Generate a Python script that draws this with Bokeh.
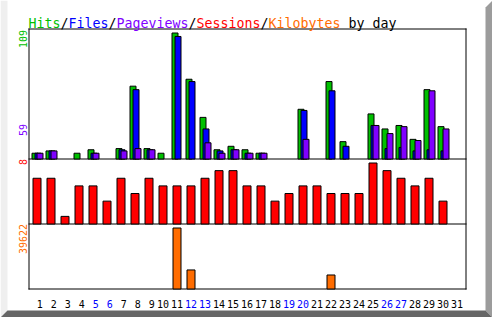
import math
from bokeh.plotting import figure
from bokeh.models import Range1d, ColumnDataSource, CDSView, BooleanFilter
from bokeh.transform import dodge
from bokeh.core.properties import value
from bokeh.embed import file_html
from bokeh.resources import INLINE

# ---------------- data ----------------
days = list(range(1, 32))
day_labels = [str(d) for d in days]
weekend_days = [5, 6, 12, 13, 19, 20, 26, 27]
hits = [5, 7, 0, 5, 8, 0, 9, 63, 9, 5, 109, 69, 36, 8, 11, 8, 5, 0, 0, 43, 0, 67, 15, 0, 39, 26, 29, 17, 60, 28, 0]
files = [5, 7, 0, 0, 5, 0, 8, 60, 8, 0, 106, 67, 26, 7, 8, 5, 5, 0, 0, 42, 0, 59, 11, 0, 29, 9, 10, 7, 8, 7, 0]
pageviews = [5, 7, 0, 0, 5, 0, 7, 9, 8, 0, 0, 0, 14, 5, 8, 5, 5, 0, 0, 17, 0, 0, 0, 0, 29, 22, 28, 16, 59, 26, 0]
sessions = [6, 6, 1, 5, 5, 3, 6, 4, 6, 5, 5, 5, 6, 7, 7, 5, 5, 3, 4, 5, 5, 4, 4, 4, 8, 7, 6, 5, 6, 3, 0]
kilobytes = [0, 0, 0, 0, 0, 0, 0, 0, 0, 0, 39622, 12380, 0, 0, 0, 0, 0, 0, 0, 0, 0, 9100, 0, 0, 0, 0, 0, 0, 0, 0, 0]

title_parts = ["Hits", "/", "Files", "/", "Pageviews", "/", "Sessions", "/", "Kilobytes", " by day"]

# ---------------- style ----------------
GREEN = "#00C000"
BLUE = "#0000FF"
PURPLE = "#8000FF"
RED = "#FF0000"
ORANGE = "#FF6C00"
title_colors = [GREEN, "black", BLUE, "black", PURPLE, "black", RED, "black", ORANGE, "black"]
MONO = "DejaVu Sans Mono"

W, H = 492, 317
SLOT = 14.0            # px per day
X0 = 34.5              # px centre of day-1 hits bar
BASE_HITS, BASE_SESS, BASE_KB = 158.5, 223.5, 288.5
kh = 126.0 / max(hits)
ks = 61.0 / max(sessions)
kk = 61.0 / max(kilobytes)

p = figure(width=W, height=H, output_backend="svg", toolbar_location=None,
           x_range=Range1d(1 - X0 / SLOT, 1 + (W - X0) / SLOT),
           y_range=Range1d(H, 0),
           x_axis_location=None, y_axis_location=None, min_border=0,
           outline_line_color=None, background_fill_color="white",
           border_fill_color="white")
p.grid.visible = False
p.extra_x_ranges = {"px": Range1d(0, W)}
p.extra_y_ranges = {
    "hits": Range1d(-(H - BASE_HITS) / kh, BASE_HITS / kh),
    "sess": Range1d(-(H - BASE_SESS) / ks, BASE_SESS / ks),
    "kb": Range1d(-(H - BASE_KB) / kk, BASE_KB / kk),
}

# bevelled border
p.patch([0, 7, 7, 0], [0, 0, 310, 317], x_range_name="px", fill_color="#EFEFEF", line_color=None)
p.patch([485, 492, 492, 485], [7, 0, 317, 310], x_range_name="px", fill_color="#9C9C9C", line_color=None)
p.patch([0, 7, 485, 492], [317, 310, 310, 317], x_range_name="px", fill_color="#666666", line_color=None)

# frame
p.segment(x0=[28.5, 465.5, 28, 28, 28, 28], y0=[28, 28, 28.5, 158.5, 223.5, 288.5],
          x1=[28.5, 465.5, 466, 466, 466, 466], y1=[289, 289, 28.5, 158.5, 223.5, 288.5],
          x_range_name="px", line_color="black", line_width=1)

src = ColumnDataSource(dict(day=days, hits=hits, files=files, pageviews=pageviews,
                            sessions=sessions, kilobytes=kilobytes))


def nonzero(col):
    return CDSView(filter=BooleanFilter([v > 0 for v in col]))


p.vbar(x="day", width=6 / SLOT, top="hits", bottom=0, source=src, view=nonzero(hits),
       y_range_name="hits", fill_color=GREEN, line_color="black", line_width=1)
p.vbar(x=dodge("day", 3 / SLOT, range=p.x_range), width=6 / SLOT, top="files", bottom=0, source=src,
       view=nonzero(files), y_range_name="hits", fill_color=BLUE, line_color="black", line_width=1)
p.vbar(x=dodge("day", 5 / SLOT, range=p.x_range), width=6 / SLOT, top="pageviews", bottom=0, source=src,
       view=nonzero(pageviews), y_range_name="hits", fill_color=PURPLE, line_color="black", line_width=1)
p.vbar(x=dodge("day", 2 / SLOT, range=p.x_range), width=8 / SLOT, top="sessions", bottom=0, source=src,
       view=nonzero(sessions), y_range_name="sess", fill_color=RED, line_color="black", line_width=1)
p.vbar(x=dodge("day", 2 / SLOT, range=p.x_range), width=8 / SLOT, top="kilobytes", bottom=0, source=src,
       view=nonzero(kilobytes), y_range_name="kb", fill_color=ORANGE, line_color="black", line_width=1)

# day labels
lab = ColumnDataSource(dict(
    x=days, y=[303] * len(days), text=day_labels,
    xo=[4.8 if len(t) == 1 else 2.0 for t in day_labels],
    color=[BLUE if d in weekend_days else "black" for d in days]))
p.text(x="x", y="y", text="text", x_offset="xo", source=lab, text_color="color",
       text_font=value(MONO), text_font_size="10px", text_align="center",
       text_baseline="alphabetic")

# title (monospace, 8 px per character)
xs, texts, pos = [], [], 28.0
for part in title_parts:
    stripped = part.lstrip()
    xs.append(pos + 8.0 * (len(part) - len(stripped)))
    texts.append(stripped)
    pos += 8.0 * len(part)
tsrc = ColumnDataSource(dict(x=xs, y=[23] * len(xs), text=texts, color=title_colors))
p.text(x="x", y="y", text="text", source=tsrc, x_range_name="px", text_color="color",
       text_font=value(MONO), text_font_size="13.3px", text_align="left",
       text_baseline="alphabetic")

# max-value labels (rotated)
msrc = ColumnDataSource(dict(
    x=[22.5, 22.5, 22.5, 22.5], y=[38.5, 129.5, 161.5, 238.5],
    text=[str(max(hits)), str(max(pageviews)), str(max(sessions)), str(max(kilobytes))],
    color=[GREEN, PURPLE, RED, ORANGE]))
p.text(x="x", y="y", text="text", source=msrc, x_range_name="px", text_color="color",
       angle=math.pi / 2, text_font=value(MONO), text_font_size="10px",
       text_align="center", text_baseline="middle")

open("out.html", "w").write(file_html(p, INLINE))
